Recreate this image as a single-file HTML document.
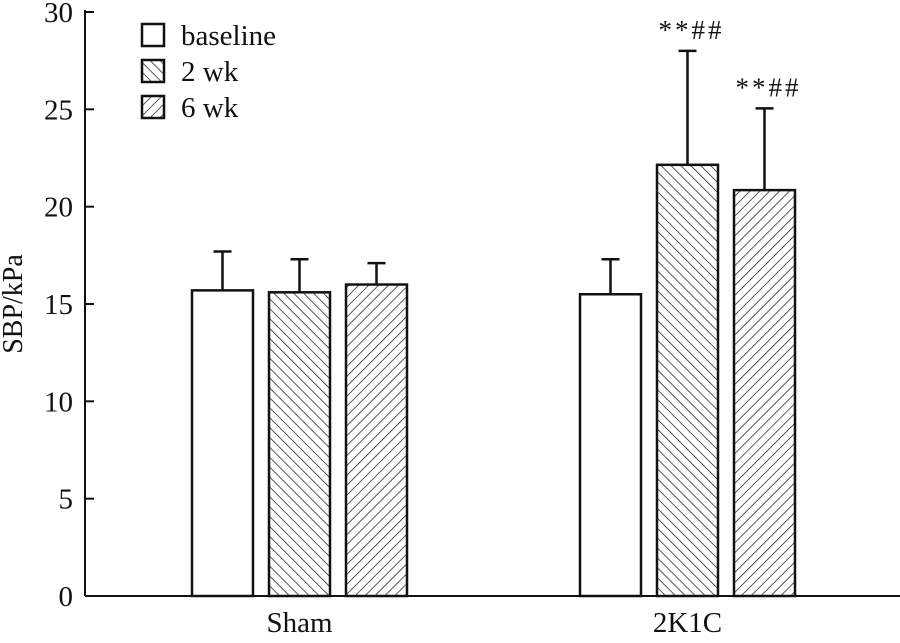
<!DOCTYPE html>
<html><head><meta charset="utf-8"><style>
body{margin:0;background:#fff}
svg text{font-family:"Liberation Serif",serif;fill:#111}
</style></head><body>
<svg id="chart" width="900" height="638">
<defs>
<pattern id="back" patternUnits="userSpaceOnUse" width="7" height="7" patternTransform="rotate(-45)"><rect width="7" height="7" fill="#fff"/><line x1="0" y1="0" x2="0" y2="7" stroke="#111" stroke-width="1.4"/></pattern>
<pattern id="fwd" patternUnits="userSpaceOnUse" width="7" height="7" patternTransform="rotate(45)"><rect width="7" height="7" fill="#fff"/><line x1="0" y1="0" x2="0" y2="7" stroke="#111" stroke-width="1.4"/></pattern>
</defs>
<g id="g"></g>
</svg>
<script>
const groups=["Sham","2K1C"];
const series=["baseline","2 wk","6 wk"];
const means=[[15.7,15.6,16.0],[15.5,22.15,20.85]];
const errTops=[[17.7,17.3,17.1],[17.3,28.0,25.05]];
const sig=[["","",""],["","**##","**##"]];
const yTicks=[0,5,10,15,20,25,30];
const fills=["#fff","url(#back)","url(#fwd)"];
const NS="http://www.w3.org/2000/svg";
const g=document.getElementById('g');
const y0=596,y1=12,x0=85,x1=900;
const y=v=>y0-(v/30)*(y0-y1);
const groupX=[192,580],barW=61,barStep=77;
function el(t,a,txt){const e=document.createElementNS(NS,t);for(const k in a)e.setAttribute(k,a[k]);if(txt!==undefined)e.textContent=txt;g.appendChild(e);return e;}
let ax=el('line',{x1:x0,y1:y1-2,x2:x0,y2:y0,stroke:'#111','stroke-width':2});


let bx=el('line',{x1:x0,y1:y0,x2:x1,y2:y0,stroke:'#111','stroke-width':2});


yTicks.forEach(t=>{
 let l=el('line',{x1:x0,y1:y(t),x2:x0+9,y2:y(t),stroke:'#111','stroke-width':2});
 
 
 let tx=el('text',{x:x0-12,y:y(t)+10,'text-anchor':'end','font-size':29},t);
 
 
});
let yt=el('text',{x:22,y:304,'text-anchor':'middle','font-size':28,transform:'rotate(-90 22 304)'},'SBP/kPa');


groups.forEach((gn,gi)=>{
 let gl=el('text',{x:groupX[gi]+barW/2+barStep,y:632,'text-anchor':'middle','font-size':29},gn);
 
 
 means[gi].forEach((m,si)=>{
  const bxl=groupX[gi]+si*barStep, cx=bxl+barW/2;
  let eb=el('line',{x1:cx,y1:y(errTops[gi][si]),x2:cx,y2:y(m),stroke:'#111','stroke-width':2.5});
  
  
  let cp=el('line',{x1:cx-9,y1:y(errTops[gi][si]),x2:cx+9,y2:y(errTops[gi][si]),stroke:'#111','stroke-width':2.5});
  
  
  let r=el('rect',{x:bxl,y:y(m),width:barW,height:y0-y(m),fill:fills[si],stroke:'#111','stroke-width':2.5});
  
  
  if(sig[gi][si]){
   let s=el('text',{x:cx+4,y:y(errTops[gi][si])-12,'text-anchor':'middle','font-size':27,'letter-spacing':3},sig[gi][si]);
   
   
  }
 });
});
series.forEach((s,i)=>{
 const ly=24+i*36;
 let b=el('rect',{x:142,y:ly,width:22,height:22,fill:fills[i],stroke:'#111','stroke-width':2.5});
 
 
 let t=el('text',{x:181,y:ly+21,'font-size':29},s);
 
 
});
</script>
</body></html>
